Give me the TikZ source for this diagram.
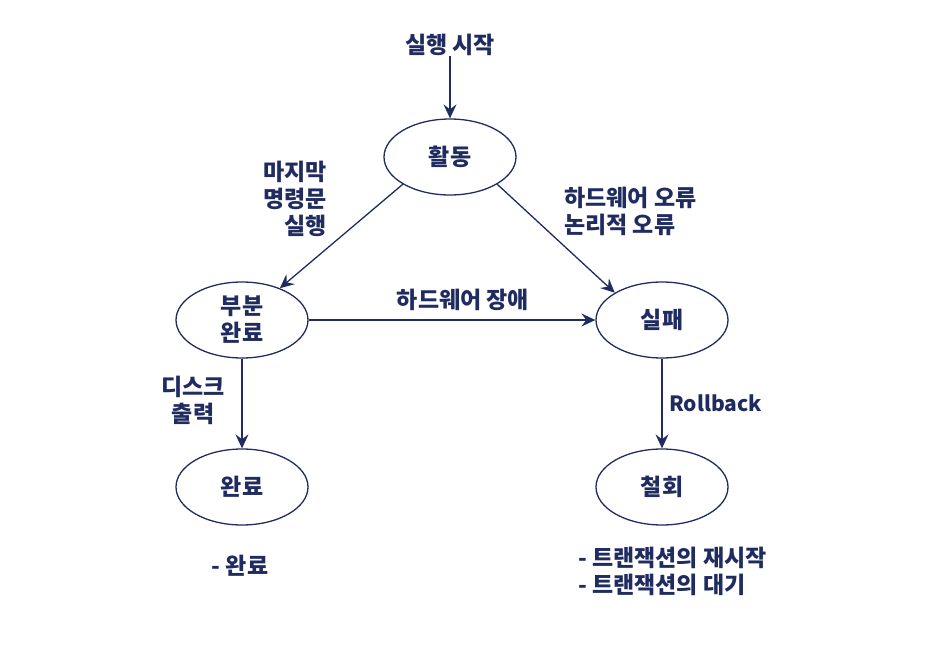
\documentclass[tikz,border=0pt]{standalone}
\usepackage{fontspec}
\setmainfont{Noto Sans CJK KR}
\usepackage{tikz}
\usetikzlibrary{arrows.meta,shapes.geometric,positioning}
\definecolor{navy}{RGB}{32,44,96}

\begin{document}
\begin{tikzpicture}[x=1pt,y=-1pt]
\tikzstyle{every node}=[text=navy,font=\fontsize{23}{27}\selectfont\bfseries]
\tikzstyle{state}=[ellipse,draw=navy,line width=1.3pt,minimum width=132pt,minimum height=76pt,inner sep=0pt,align=center]
\tikzstyle{note}=[inner sep=0pt]
\tikzstyle{go}=[-{Stealth[length=14pt,width=13pt,inset=5pt]},draw=navy,line width=1.3pt]
\useasboundingbox (0,0) rectangle (940,654);
\node[state] (active) at (450,157) {활동};
\node[state] (partial) at (242,320) {부분\\완료};
\node[state] (failed) at (662,320) {실패};
\node[state] (committed) at (242,487) {완료};
\node[state] (aborted) at (662,487) {철회};
\node[note] (start) at (450,45) {실행 시작};
\node[note,align=right,anchor=east] (lastcmd) at (327,199) {마지막\\명령문\\실행};
\node[note,align=left,anchor=west] (errors) at (564,211) {하드웨어 오류\\논리적 오류};
\node[note] (hwfail) at (463,300) {하드웨어 장애};
\node[note,align=center] (disk) at (193,400) {디스크\\출력};
\node[note,anchor=west,font=\fontsize{21}{27}\selectfont\bfseries] (rollback) at (669,403) {Rollback};
\node[note] (donenote) at (240,566) {- 완료};
\node[note,align=left,anchor=west] (abortnote) at (578,571) {- 트랜잭션의 재시작\\- 트랜잭션의 대기};
\draw[go] (start) -- (active);
\draw[go] (active.-150) -- (partial.40);
\draw[go] (active.-30) -- (failed.150);
\draw[go] (partial) -- (failed);
\draw[go] (partial) -- (committed);
\draw[go] (failed) -- (aborted);
\end{tikzpicture}
\end{document}
